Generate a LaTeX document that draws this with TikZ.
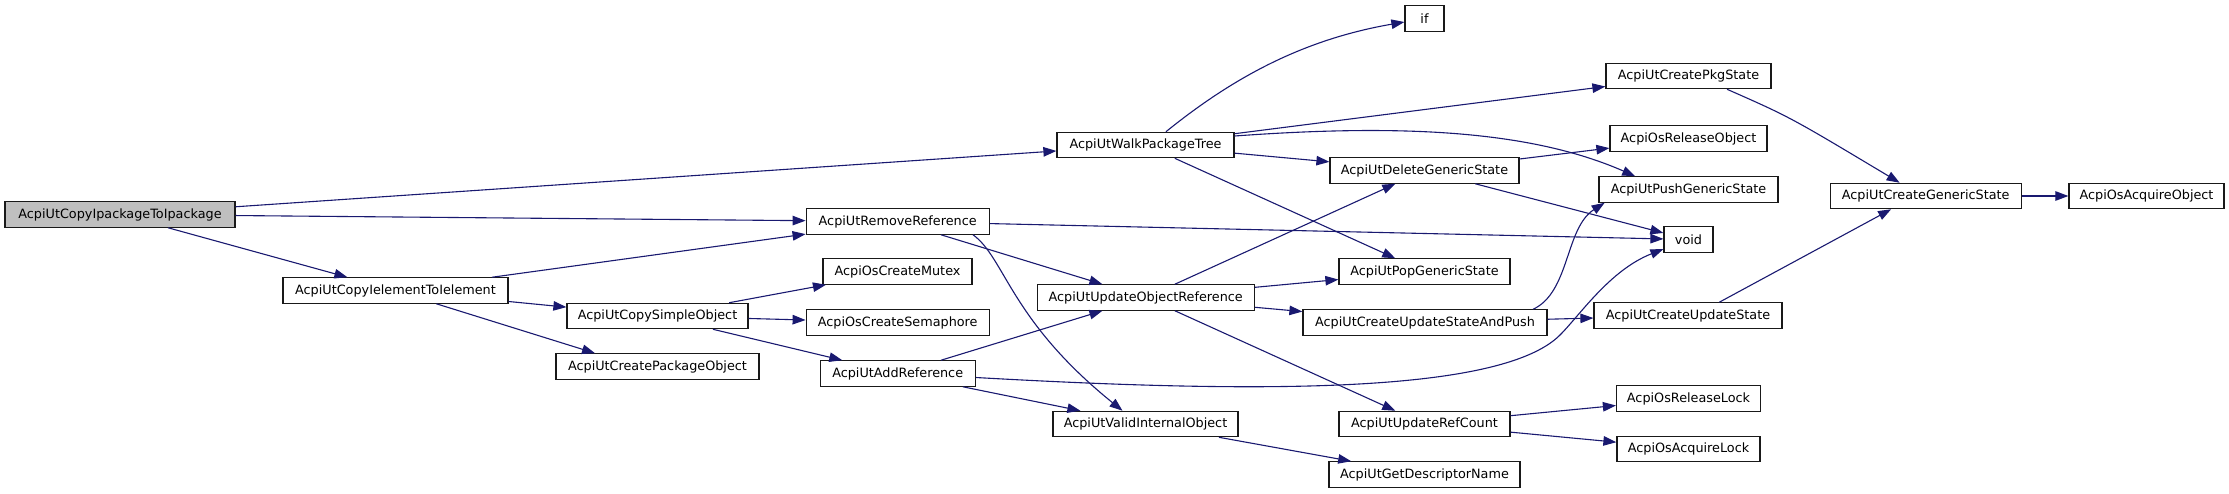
\documentclass[tikz,border=0pt]{standalone}
\usepackage{fontspec}
\setmainfont{DejaVu Sans}
\usetikzlibrary{arrows.meta}
\definecolor{edgec}{HTML}{191970}
\definecolor{rootfill}{HTML}{BFBFBF}
\begin{document}
\begin{tikzpicture}[x=1pt,y=-1pt,
  fn/.style={draw=black!90, line width=1.25pt, fill=white, minimum height=25.3pt,
    inner sep=0pt, font=\fontsize{12.8}{15}\selectfont, text=black},
  rootfn/.style={fn, fill=rootfill},
  call/.style={draw=edgec, line width=1.1pt, -{Triangle[length=13pt,width=9.5pt]}}
]
\useasboundingbox (0,0) rectangle (2229,493);

% nodes
\node[rootfn, minimum width=230pt] (P)   at (120,214.5)   {AcpiUtCopyIpackageToIpackage};
\node[fn, minimum width=225pt] (E)   at (395.5,290.5) {AcpiUtCopyIelementToIelement};
\node[fn, minimum width=181pt] (S)   at (657.5,316)   {AcpiUtCopySimpleObject};
\node[fn, minimum width=203pt] (CPO) at (657.5,366.5) {AcpiUtCreatePackageObject};
\node[fn, minimum width=183pt] (RR)  at (897.7,221.5) {AcpiUtRemoveReference};
\node[fn, minimum width=149pt] (CM)  at (897.5,271.5) {AcpiOsCreateMutex};
\node[fn, minimum width=183pt] (CS)  at (897.7,322.5) {AcpiOsCreateSemaphore};
\node[fn, minimum width=155pt] (AR)  at (897.7,373.5) {AcpiUtAddReference};
\node[fn, minimum width=177pt] (W)   at (1145.5,145)  {AcpiUtWalkPackageTree};
\node[fn, minimum width=217pt] (U)   at (1145.7,297.5) {AcpiUtUpdateObjectReference};
\node[fn, minimum width=185pt] (V)   at (1145.5,424)  {AcpiUtValidInternalObject};
\node[fn, minimum width=39pt]  (IF)  at (1424.5,18.5) {if};
\node[fn, minimum width=189pt] (D)   at (1424.5,170.5) {AcpiUtDeleteGenericState};
\node[fn, minimum width=171pt] (PG)  at (1424.5,271.5) {AcpiUtPopGenericState};
\node[fn, minimum width=244pt] (C)   at (1425,322.5)  {AcpiUtCreateUpdateStateAndPush};
\node[fn, minimum width=171pt] (URC) at (1424.5,424)  {AcpiUtUpdateRefCount};
\node[fn, minimum width=191pt] (GDN) at (1424.5,474.5) {AcpiUtGetDescriptorName};
\node[fn, minimum width=165pt] (CPS) at (1688.5,76)   {AcpiUtCreatePkgState};
\node[fn, minimum width=157pt] (RO)  at (1688.5,138.5) {AcpiOsReleaseObject};
\node[fn, minimum width=179pt] (PU)  at (1688.5,189.5) {AcpiUtPushGenericState};
\node[fn, minimum width=49pt]  (VOID) at (1688.5,239.5) {void};
\node[fn, minimum width=188pt] (CUS) at (1688,315.5)  {AcpiUtCreateUpdateState};
\node[fn, minimum width=144pt] (RL)  at (1688.5,398.5) {AcpiOsReleaseLock};
\node[fn, minimum width=143pt] (AL)  at (1688.5,449)  {AcpiOsAcquireLock};
\node[fn, minimum width=191pt] (CGS) at (1925.7,196)  {AcpiUtCreateGenericState};
\node[fn, minimum width=155pt] (OAO) at (2146.5,196)  {AcpiOsAcquireObject};

% edges
\draw[call] (P) -- (W);
\draw[call] (P) -- (RR);
\draw[call] (P) -- (E);
\draw[call] (E) -- (RR);
\draw[call] (E) -- (S);
\draw[call] (E.-18.4) -- (CPO.168.3);
\draw[call] (S) -- (CM);
\draw[call] (S) -- (CS);
\draw[call] (S) -- (AR);
\draw[call] (RR) -- (VOID);
\draw[call] (RR) -- (U);
\draw[call] (RR.-10.5) .. controls (1005,258) and (1010,320) .. (V.150);
\draw[call] (AR) -- (U);
\draw[call] (AR) -- (V);
\draw[call] ([yshift=-4pt]AR.east) .. controls (1250,393) and (1500,395) .. (1560,335)
   .. controls (1580,315) and (1610,270) .. (VOID.201.2);
\draw[call] (W.33.7) .. controls (1230,80) and (1300,40) .. ([yshift=-3.5pt]IF.west);
\draw[call] (W) -- (CPS);
\draw[call] ([yshift=9pt]W.east) .. controls (1400,124) and (1530,130) .. (PU.166.4);
\draw[call] (W) -- (D);
\draw[call] (W) -- (PG);
\draw[call] (U) -- (D);
\draw[call] (U) -- (PG);
\draw[call] (U) -- (C);
\draw[call] (U) -- (URC);
\draw[call] (D) -- (RO);
\draw[call] (D) -- (VOID);
\draw[call] (C.7.3) .. controls (1570,292) and (1565,228) .. (PU.189.9);
\draw[call] (C) -- (CUS);
\draw[call] (CUS.23.5) -- (CGS.201.1);
\draw[call] (CPS.-19.6) .. controls (1790,117) .. (CGS.153);
\draw[call] (CGS) -- (OAO);
\draw[call] (URC) -- (RL);
\draw[call] (URC) -- (AL);
\draw[call] (V) -- (GDN);
\end{tikzpicture}
\end{document}
